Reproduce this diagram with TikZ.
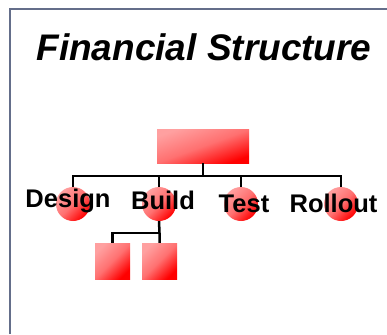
\documentclass[tikz,border=0pt]{standalone}
\usepackage{fontspec}
\setmainfont{Liberation Sans}
\usetikzlibrary{positioning,shapes}

\definecolor{framegray}{HTML}{646E8A}
\definecolor{pinklite}{HTML}{FFA0A0}
\definecolor{pinkmid}{HTML}{FF7070}
\definecolor{reddeep}{HTML}{FF0000}

\tikzset{
	redfill/.style={shade, top color=pinklite, bottom color=reddeep, middle color=pinkmid, shading angle=45, draw=none},
	topbox/.style={redfill, shading angle=20, rectangle, minimum width=92pt, minimum height=34pt, inner sep=0pt},
	subbox/.style={redfill, rectangle, minimum width=35pt, minimum height=36pt, inner sep=0pt},
	phase/.style={redfill, circle, minimum size=34pt, inner sep=0pt},
	phasetext/.style={font=\bfseries\fontsize{25.5}{28}\selectfont, anchor=base, inner sep=0pt},
	branch/.style={line width=2.5pt, black}
}

\begin{document}
\begin{tikzpicture}[x=1pt,y=-1pt]
		\useasboundingbox (0,0) rectangle (387,334);
		\draw[framegray, line width=2pt] (10,334) -- (10,9) -- (387,9);
		\node[font=\bfseries\itshape\fontsize{37}{40}\selectfont, anchor=base, inner sep=0pt] (title) at (204,61) {Financial Structure};
		
		\node[topbox] (top) at (203,146) {};
		\node[phase] (design) at (73,204) {};
		\node[phase] (build) at (159,204) {};
		\node[phase] (test) at (241,204) {};
		\node[phase] (rollout) at (341,204) {};
		\node[subbox] (part1) at (112.5,261) {};
		\node[subbox] (part2) at (159.5,261) {};
		
		\coordinate (bus) at (203,176);
		\coordinate (subbus) at (159.5,233);
		\draw[branch] (top.south) -- (bus);
		\draw[branch] (design.north) |- (bus) -| (rollout.north);
		\draw[branch] (build.north) |- (bus);
		\draw[branch] (test.north) |- (bus);
		\draw[branch] (build.south) -- (subbus) -- (part2.north);
		\draw[branch] (part1.north) |- (subbus);
		
		\node[phasetext] (designlbl) at (68,207) {Design};
		\node[phasetext] (buildlbl) at (163,209) {Build};
		\node[phasetext] (testlbl) at (244,212) {Test};
		\node[phasetext] (rolloutlbl) at (333.5,212) {Rollout};
	\end{tikzpicture}
\end{document}
